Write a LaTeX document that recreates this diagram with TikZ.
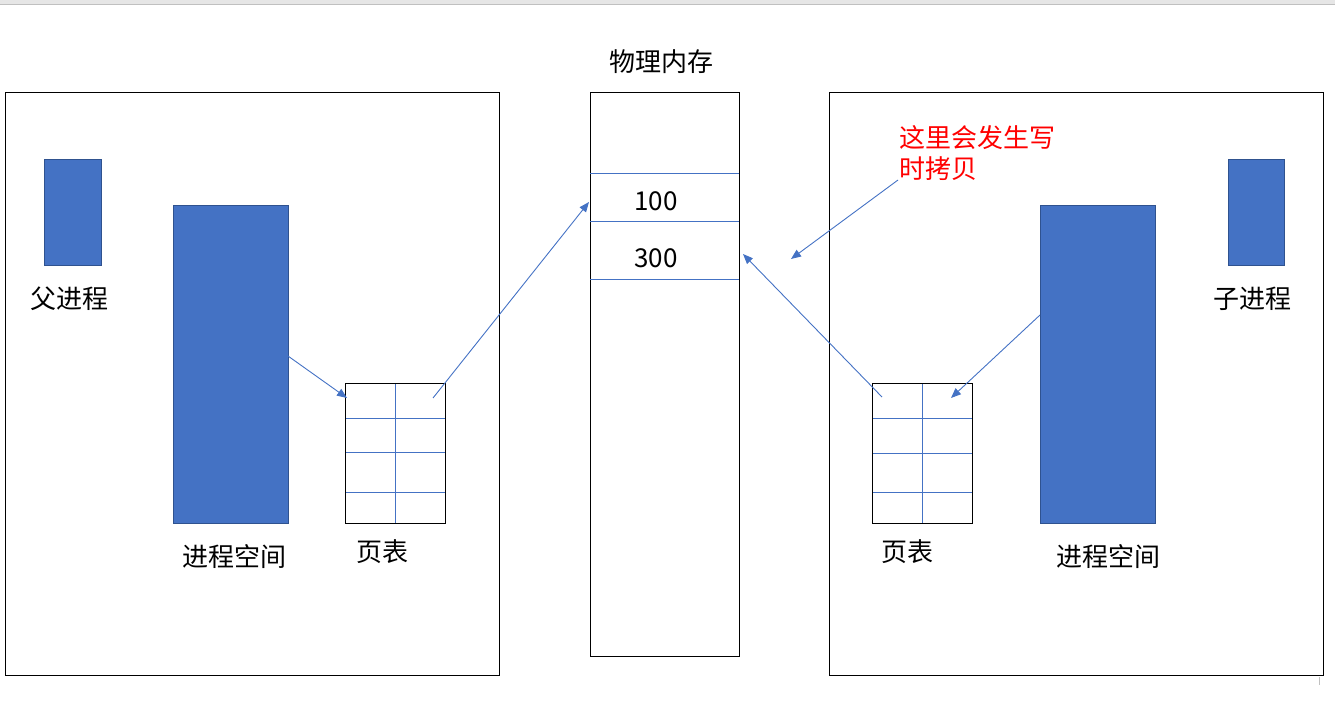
\documentclass[tikz,border=0pt]{standalone}
\usepackage{fontspec}
\setmainfont{Noto Sans CJK SC}
\usetikzlibrary{arrows.meta}
\definecolor{ablue}{HTML}{4472C4}
\definecolor{dblue}{HTML}{2F528F}
\definecolor{topgray}{HTML}{E6E6E6}
\definecolor{lgray}{HTML}{C0C0C0}
\tikzset{
  frame/.style={draw=black,line width=1pt,anchor=north west,inner sep=0pt,outer sep=0pt},
  blk/.style={fill=ablue,draw=dblue,line width=0.8pt,anchor=north west,inner sep=0pt,outer sep=0pt},
  grid/.style={draw=ablue,line width=1pt},
  conn/.style={draw=ablue,line width=0.9pt,-{Triangle[length=10pt,width=8pt]}},
  lbl/.style={font=\fontsize{26}{32}\selectfont,inner sep=0pt},
}
\begin{document}
\begin{tikzpicture}[x=1pt,y=-1pt]
\useasboundingbox (0,0) rectangle (1335,701);
% top bar
\fill[topgray] (0,0) rectangle (1335,4);
\draw[lgray,line width=1.2pt] (0,4.3) -- (1335,4.3);
\draw[lgray,line width=1pt] (1319,677) -- (1319,685);

% frames
\node[frame,minimum width=494pt,minimum height=583pt] (lbox) at (5,92) {};
\node[frame,minimum width=494pt,minimum height=583pt] (rbox) at (829,92) {};
\node[frame,minimum width=149pt,minimum height=564pt] (mem) at (590,92) {};
\draw[grid] (mem.west |- 0,173) -- (mem.east |- 0,173);
\draw[grid] (mem.west |- 0,221) -- (mem.east |- 0,221);
\draw[grid] (mem.west |- 0,279) -- (mem.east |- 0,279);
\node[lbl] (t100) at (656,201) {100};
\node[lbl] (t300) at (656,258) {300};
\node[lbl] (memt) at (661,62) {物理内存};

% left side
\node[blk,minimum width=57pt,minimum height=106pt] (lsmall) at (44,159) {};
\node[blk,minimum width=115pt,minimum height=318pt] (lbig) at (173,205) {};
\node[lbl] (lpar) at (69,299) {父进程};
\node[lbl] (lspace) at (234,557) {进程空间};
\node[frame,minimum width=100pt,minimum height=140pt] (lpt) at (345,383) {};
\draw[grid] (lpt.north) -- (lpt.south);
\draw[grid] (lpt.west |- 0,418) -- (lpt.east |- 0,418);
\draw[grid] (lpt.west |- 0,452) -- (lpt.east |- 0,452);
\draw[grid] (lpt.west |- 0,492) -- (lpt.east |- 0,492);
\draw[line width=1pt] (lpt.north west) rectangle (lpt.south east);
\node[lbl] (lptt) at (382,552) {页表};

% right side
\node[blk,minimum width=56pt,minimum height=106pt] (rsmall) at (1228,159) {};
\node[blk,minimum width=115pt,minimum height=318pt] (rbig) at (1040,205) {};
\node[lbl] (rchild) at (1252,299) {子进程};
\node[lbl] (rspace) at (1108,557) {进程空间};
\node[frame,minimum width=100pt,minimum height=140pt] (rpt) at (872,383) {};
\draw[grid] (rpt.north) -- (rpt.south);
\draw[grid] (rpt.west |- 0,418) -- (rpt.east |- 0,418);
\draw[grid] (rpt.west |- 0,453) -- (rpt.east |- 0,453);
\draw[grid] (rpt.west |- 0,492) -- (rpt.east |- 0,492);
\draw[line width=1pt] (rpt.north west) rectangle (rpt.south east);
\node[lbl] (rptt) at (907,552) {页表};

% note
\node[lbl,text=red,anchor=north west,align=left,font=\fontsize{26}{31.5}\selectfont] (note) at (899,125) {这里会发生写\\时拷贝};

% connector endpoints
\coordinate (a1s) at (288,356);
\coordinate (a1e) at (347,398);
\coordinate (a2s) at (433,398);
\coordinate (a2e) at (589,202);
\coordinate (a3s) at (882,397);
\coordinate (a3e) at (743,254);
\coordinate (a4s) at (1040,315);
\coordinate (a4e) at (951,398);
\coordinate (a5s) at (898,180);
\coordinate (a5e) at (791,259);
\draw[conn] (a1s) -- (a1e);
\draw[conn] (a2s) -- (a2e);
\draw[conn] (a3s) -- (a3e);
\draw[conn] (a4s) -- (a4e);
\draw[conn] (a5s) -- (a5e);
\end{tikzpicture}
\end{document}
